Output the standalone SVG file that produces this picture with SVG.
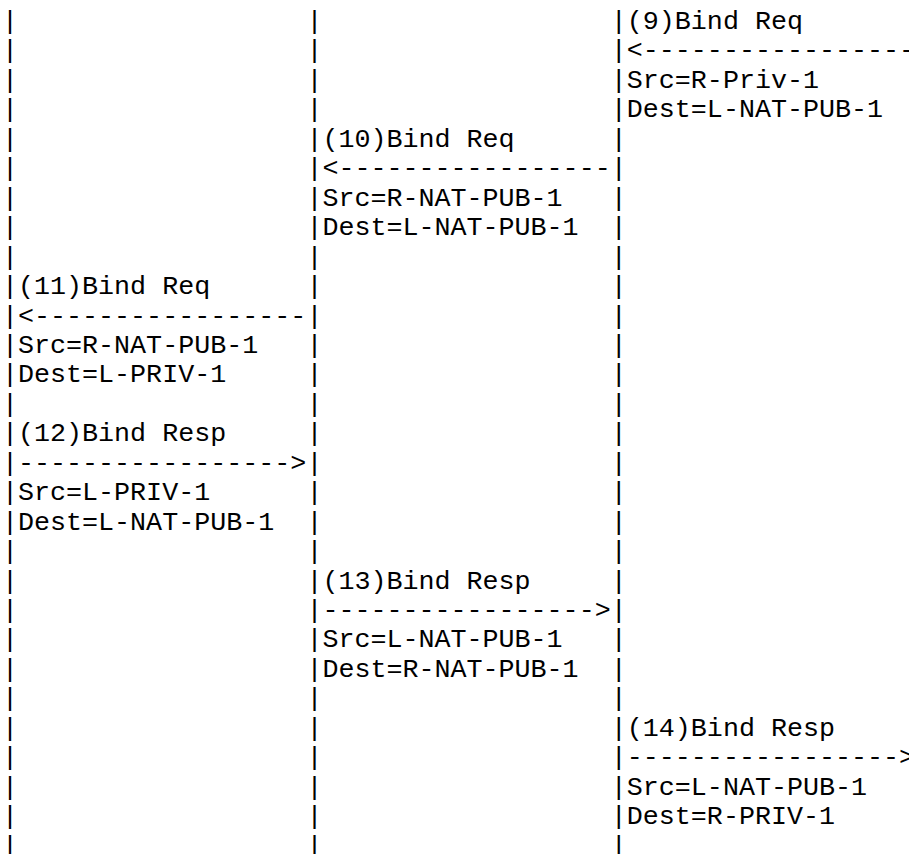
<svg xmlns="http://www.w3.org/2000/svg" width="909" height="854" viewBox="0 0 909 854">
<style>
text{font-family:"Liberation Mono","Courier New",monospace;font-size:26.7px;fill:#000;white-space:pre}
</style>
<rect width="909" height="854" fill="#fff"/>
<g id="connectors">
<text id="lifeline-L" x="2"><tspan x="2" y="29">|</tspan><tspan x="2" y="58.45">|</tspan><tspan x="2" y="87.9">|</tspan><tspan x="2" y="117.35">|</tspan><tspan x="2" y="146.8">|</tspan><tspan x="2" y="176.25">|</tspan><tspan x="2" y="205.7">|</tspan><tspan x="2" y="235.15">|</tspan><tspan x="2" y="264.6">|</tspan><tspan x="2" y="294.05">|</tspan><tspan x="2" y="323.5">|</tspan><tspan x="2" y="352.95">|</tspan><tspan x="2" y="382.4">|</tspan><tspan x="2" y="411.85">|</tspan><tspan x="2" y="441.3">|</tspan><tspan x="2" y="470.75">|</tspan><tspan x="2" y="500.2">|</tspan><tspan x="2" y="529.65">|</tspan><tspan x="2" y="559.1">|</tspan><tspan x="2" y="588.55">|</tspan><tspan x="2" y="618">|</tspan><tspan x="2" y="647.45">|</tspan><tspan x="2" y="676.9">|</tspan><tspan x="2" y="706.35">|</tspan><tspan x="2" y="735.8">|</tspan><tspan x="2" y="765.25">|</tspan><tspan x="2" y="794.7">|</tspan><tspan x="2" y="824.15">|</tspan><tspan x="2" y="853.6">|</tspan></text>
<text id="lifeline-M" x="306.4"><tspan x="306.4" y="29">|</tspan><tspan x="306.4" y="58.45">|</tspan><tspan x="306.4" y="87.9">|</tspan><tspan x="306.4" y="117.35">|</tspan><tspan x="306.4" y="146.8">|</tspan><tspan x="306.4" y="176.25">|</tspan><tspan x="306.4" y="205.7">|</tspan><tspan x="306.4" y="235.15">|</tspan><tspan x="306.4" y="264.6">|</tspan><tspan x="306.4" y="294.05">|</tspan><tspan x="306.4" y="323.5">|</tspan><tspan x="306.4" y="352.95">|</tspan><tspan x="306.4" y="382.4">|</tspan><tspan x="306.4" y="411.85">|</tspan><tspan x="306.4" y="441.3">|</tspan><tspan x="306.4" y="470.75">|</tspan><tspan x="306.4" y="500.2">|</tspan><tspan x="306.4" y="529.65">|</tspan><tspan x="306.4" y="559.1">|</tspan><tspan x="306.4" y="588.55">|</tspan><tspan x="306.4" y="618">|</tspan><tspan x="306.4" y="647.45">|</tspan><tspan x="306.4" y="676.9">|</tspan><tspan x="306.4" y="706.35">|</tspan><tspan x="306.4" y="735.8">|</tspan><tspan x="306.4" y="765.25">|</tspan><tspan x="306.4" y="794.7">|</tspan><tspan x="306.4" y="824.15">|</tspan><tspan x="306.4" y="853.6">|</tspan></text>
<text id="lifeline-R" x="610.8"><tspan x="610.8" y="29">|</tspan><tspan x="610.8" y="58.45">|</tspan><tspan x="610.8" y="87.9">|</tspan><tspan x="610.8" y="117.35">|</tspan><tspan x="610.8" y="146.8">|</tspan><tspan x="610.8" y="176.25">|</tspan><tspan x="610.8" y="205.7">|</tspan><tspan x="610.8" y="235.15">|</tspan><tspan x="610.8" y="264.6">|</tspan><tspan x="610.8" y="294.05">|</tspan><tspan x="610.8" y="323.5">|</tspan><tspan x="610.8" y="352.95">|</tspan><tspan x="610.8" y="382.4">|</tspan><tspan x="610.8" y="411.85">|</tspan><tspan x="610.8" y="441.3">|</tspan><tspan x="610.8" y="470.75">|</tspan><tspan x="610.8" y="500.2">|</tspan><tspan x="610.8" y="529.65">|</tspan><tspan x="610.8" y="559.1">|</tspan><tspan x="610.8" y="588.55">|</tspan><tspan x="610.8" y="618">|</tspan><tspan x="610.8" y="647.45">|</tspan><tspan x="610.8" y="676.9">|</tspan><tspan x="610.8" y="706.35">|</tspan><tspan x="610.8" y="735.8">|</tspan><tspan x="610.8" y="765.25">|</tspan><tspan x="610.8" y="794.7">|</tspan><tspan x="610.8" y="824.15">|</tspan><tspan x="610.8" y="853.6">|</tspan></text>
</g>
<g id="msg9">
<text x="626.8" y="29">(9)Bind Req</text>
<text x="626.8" y="58.45">&lt;-----------------</text>
<text x="626.8" y="87.9">Src=R-Priv-1</text>
<text x="626.8" y="117.35">Dest=L-NAT-PUB-1</text>
</g>
<g id="msg10">
<text x="322.4" y="146.8">(10)Bind Req</text>
<text x="322.4" y="176.25">&lt;-----------------</text>
<text x="322.4" y="205.7">Src=R-NAT-PUB-1</text>
<text x="322.4" y="235.15">Dest=L-NAT-PUB-1</text>
</g>
<g id="msg11">
<text x="18" y="294.05">(11)Bind Req</text>
<text x="18" y="323.5">&lt;-----------------</text>
<text x="18" y="352.95">Src=R-NAT-PUB-1</text>
<text x="18" y="382.4">Dest=L-PRIV-1</text>
</g>
<g id="msg12">
<text x="18" y="441.3">(12)Bind Resp</text>
<text x="18" y="470.75">-----------------&gt;</text>
<text x="18" y="500.2">Src=L-PRIV-1</text>
<text x="18" y="529.65">Dest=L-NAT-PUB-1</text>
</g>
<g id="msg13">
<text x="322.4" y="588.55">(13)Bind Resp</text>
<text x="322.4" y="618">-----------------&gt;</text>
<text x="322.4" y="647.45">Src=L-NAT-PUB-1</text>
<text x="322.4" y="676.9">Dest=R-NAT-PUB-1</text>
</g>
<g id="msg14">
<text x="626.8" y="735.8">(14)Bind Resp</text>
<text x="626.8" y="765.25">-----------------&gt;</text>
<text x="626.8" y="794.7">Src=L-NAT-PUB-1</text>
<text x="626.8" y="824.15">Dest=R-PRIV-1</text>
</g>
</svg>
